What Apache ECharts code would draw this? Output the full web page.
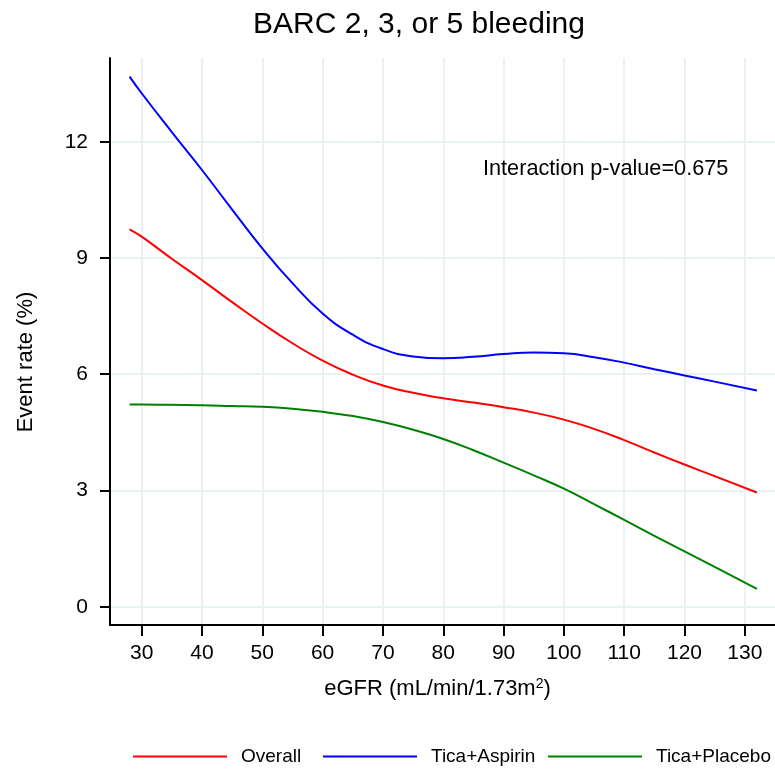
<!DOCTYPE html>
<html>
<head>
<meta charset="utf-8">
<script src="https://cdn.jsdelivr.net/npm/echarts@6/dist/echarts.min.js"></script>
<style>
  html, body { margin: 0; padding: 0; background: #fff; }
  #chart { width: 775px; height: 769px; }
</style>
</head>
<body>
<div id="chart"></div>
<script>
// eGFR values where the curves were read
var egfr = [28, 30, 35, 40, 45, 50, 55, 60, 65, 70, 75, 80, 85, 90, 95, 100, 105, 110, 115, 120, 125, 132];
var overall = [9.74, 9.55, 8.98, 8.43, 7.86, 7.31, 6.80, 6.35, 5.99, 5.71, 5.52, 5.38, 5.27, 5.15, 5.01, 4.83, 4.59, 4.30, 3.98, 3.67, 3.37, 2.95];
var ticaAspirin = [13.68, 13.25, 12.25, 11.27, 10.25, 9.25, 8.35, 7.57, 7.02, 6.65, 6.46, 6.41, 6.45, 6.52, 6.56, 6.54, 6.44, 6.30, 6.13, 5.97, 5.81, 5.58];
var ticaPlacebo = [5.22, 5.22, 5.21, 5.20, 5.18, 5.16, 5.11, 5.03, 4.92, 4.77, 4.57, 4.33, 4.04, 3.72, 3.39, 3.05, 2.65, 2.24, 1.83, 1.43, 1.03, 0.46];
var xTicks = [30, 40, 50, 60, 70, 80, 90, 100, 110, 120, 130];
var yTicks = [0, 3, 6, 9, 12];

function pairs(ys) {
  return egfr.map(function (x, i) { return [x, ys[i]]; });
}

var myChart = echarts.init(document.getElementById('chart'));
var font = 'Liberation Sans, Arial, sans-serif';
var gridColor = '#e9f1f3';

option = {
  animation: false,
  title: {
    text: 'BARC 2, 3, or 5 bleeding',
    left: 414,
    top: 5,
    textAlign: 'center',
    textStyle: { fontFamily: font, fontSize: 30, fontWeight: 'normal', color: '#000' }
  },
  grid: { left: 110, right: 0, top: 58, bottom: 144 },
  xAxis: {
    type: 'value',
    min: 24.75,
    max: 135,
    name: 'eGFR (mL/min/1.73m{sup|2})',
    nameLocation: 'middle',
    nameGap: 52,
    nameTextStyle: {
      fontFamily: font, fontSize: 22, color: '#000', padding: [0, 10, 0, 0],
      rich: { sup: { fontFamily: font, fontSize: 14, color: '#000', verticalAlign: 'top', padding: [0, 0, 9, 0] } }
    },
    axisLine: { onZero: false, lineStyle: { color: '#000', width: 2 } },
    axisTick: { length: 11, lineStyle: { color: '#000', width: 2 }, customValues: xTicks },
    axisLabel: { customValues: xTicks, margin: 18, fontFamily: font, fontSize: 21, color: '#000' },
    splitLine: { show: true, lineStyle: { color: gridColor, width: 2 } }
  },
  yAxis: {
    type: 'value',
    min: -0.47,
    max: 14.16,
    axisLine: { show: true, onZero: false, lineStyle: { color: '#000', width: 2 } },
    axisTick: { show: true, length: 10, lineStyle: { color: '#000', width: 2 }, customValues: yTicks },
    axisLabel: { customValues: yTicks, margin: 22, fontFamily: font, fontSize: 21, color: '#000' },
    splitLine: { show: true, lineStyle: { color: gridColor, width: 2 } }
  },
  legend: [
    { data: ['Overall'], left: 133, top: 747 },
    { data: ['Tica+Aspirin'], left: 323, top: 747 },
    { data: ['Tica+Placebo'], left: 548, top: 747 }
  ].map(function (l) {
    l.icon = 'rect';
    l.padding = 0;
    l.itemWidth = 94;
    l.itemHeight = 2;
    l.textStyle = { fontFamily: font, fontSize: 19, color: '#000', padding: [0, 0, 0, 9] };
    return l;
  }),
  graphic: [{
    type: 'text',
    left: 483,
    top: 158,
    z: 100,
    style: { text: 'Interaction p-value=0.675', fontFamily: font, fontSize: 21.7, fill: '#000' }
  }, {
    type: 'text',
    x: 26,
    y: 362,
    rotation: Math.PI / 2,
    style: { text: 'Event rate (%)', fontFamily: font, fontSize: 22, fill: '#000', align: 'center', verticalAlign: 'middle' }
  }],
  series: [
    { name: 'Overall', type: 'line', data: pairs(overall), smooth: 0.5, showSymbol: false,
      color: '#ff0000', lineStyle: { width: 2 } },
    { name: 'Tica+Aspirin', type: 'line', data: pairs(ticaAspirin), smooth: 0.5, showSymbol: false,
      color: '#0000ff', lineStyle: { width: 2 } },
    { name: 'Tica+Placebo', type: 'line', data: pairs(ticaPlacebo), smooth: 0.5, showSymbol: false,
      color: '#008000', lineStyle: { width: 2 } }
  ]
};

option && myChart.setOption(option);
</script>
</body>
</html>
